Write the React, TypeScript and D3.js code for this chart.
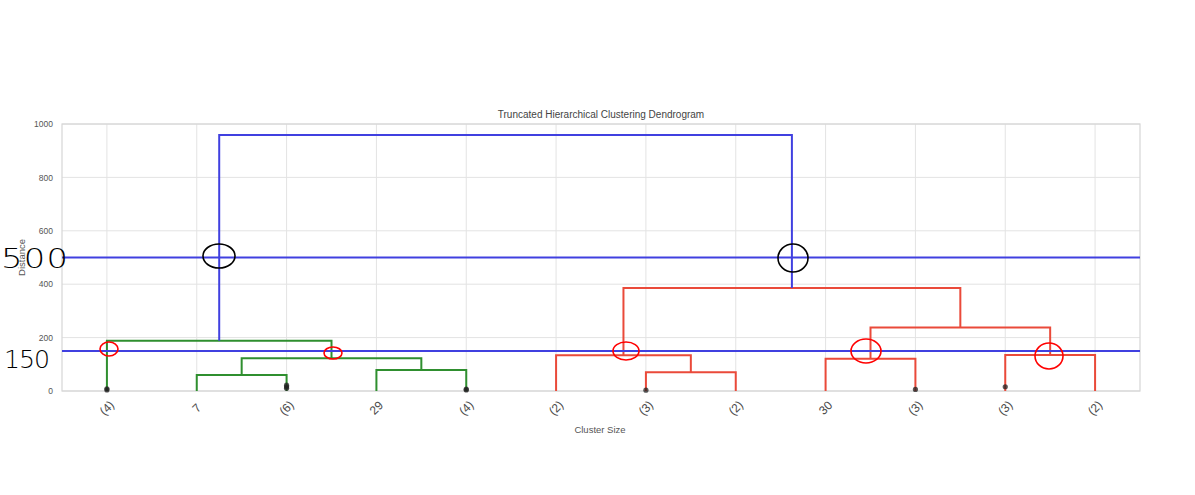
import React, { useEffect, useRef } from "react";
import * as d3 from "d3";

// leaf labels (truncated dendrogram, lastp = 12)
const leafLabels = ["(4)", "7", "(6)", "29", "(4)", "(2)", "(3)", "(2)", "30", "(3)", "(3)", "(2)"];

// merges: ids 12.. in order, [left child, right child]
const mergeLeft = [1, 3, 12, 0, 6, 5, 8, 10, 18, 17, 15];
const mergeRight = [2, 4, 13, 14, 7, 16, 9, 11, 19, 20, 21];
const mergeHeight = [60, 79, 123, 188, 70, 134, 121, 135, 238, 386, 959];
const mergeColor = ["g", "g", "g", "g", "r", "r", "r", "r", "r", "r", "b"];

// contracted merge heights drawn as dots on leaves
const contractedLeaf = [0, 0, 2, 2, 2, 4, 4, 6, 9, 10];
const contractedHeight = [4, 8, 10, 16, 22, 4, 7, 3, 6, 16];

const yTicks = [0, 200, 400, 600, 800, 1000];
const cutLines = [500, 150];

const colors: Record<string, string> = { g: "#2f8f2f", r: "#ea4a3a", b: "#4040e0" };

export default function App() {
  const ref = useRef<SVGSVGElement>(null);

  useEffect(() => {
    const svg = d3.select(ref.current);
    svg.selectAll("*").remove();

    const left = 62, right = 1140, top = 124, bottom = 391;
    const x = d3.scaleLinear().domain([0, leafLabels.length * 10]).range([left, right]);
    const y = d3.scaleLinear().domain([0, 1000]).range([bottom, top]);

    // node positions
    const nodeX: number[] = leafLabels.map((_, i) => 10 * i + 5);
    const nodeH: number[] = leafLabels.map(() => 0);
    mergeLeft.forEach((l, i) => {
      nodeX.push((nodeX[l] + nodeX[mergeRight[i]]) / 2);
      nodeH.push(mergeHeight[i]);
    });

    // grid
    const grid = svg.append("g");
    grid.selectAll("line.h")
      .data(yTicks)
      .join("line")
      .attr("x1", left).attr("x2", right)
      .attr("y1", d => y(d)).attr("y2", d => y(d))
      .attr("stroke", "#e3e3e3").attr("stroke-width", 1);
    grid.selectAll("line.v")
      .data(leafLabels.map((_, i) => 10 * i + 5))
      .join("line")
      .attr("x1", d => x(d)).attr("x2", d => x(d))
      .attr("y1", top).attr("y2", bottom)
      .attr("stroke", "#e3e3e3").attr("stroke-width", 1);
    svg.append("rect")
      .attr("x", left).attr("y", top)
      .attr("width", right - left).attr("height", bottom - top)
      .attr("fill", "none").attr("stroke", "#d6d6d6").attr("stroke-width", 1.2);

    const font = "Liberation Sans, Arial, sans-serif";

    // y axis labels
    const yAxis = d3.axisLeft(y).tickValues(yTicks).tickFormat(d3.format("d")).tickSize(0).tickPadding(9);
    const ya = svg.append("g").attr("transform", `translate(${left},0)`).call(yAxis);
    ya.select(".domain").remove();
    ya.selectAll("text").attr("fill", "#555").attr("font-size", 8.5).attr("font-family", font);

    // x tick labels (rotated 45)
    svg.append("g").selectAll("text")
      .data(leafLabels)
      .join("text")
      .attr("transform", (_, i) => `translate(${x(10 * i + 5)},${bottom + 17}) rotate(-45)`)
      .attr("text-anchor", "middle")
      .attr("dominant-baseline", "central")
      .attr("fill", "#4a4a4a")
      .attr("font-size", 12)
      .attr("font-family", font)
      .text(d => d);

    // links
    svg.append("g").selectAll("path")
      .data(mergeLeft.map((l, i) => i))
      .join("path")
      .attr("d", i => {
        const l = mergeLeft[i], r = mergeRight[i];
        return `M${x(nodeX[l])},${y(nodeH[l])}V${y(mergeHeight[i])}H${x(nodeX[r])}V${y(nodeH[r])}`;
      })
      .attr("fill", "none")
      .attr("stroke", i => colors[mergeColor[i]])
      .attr("stroke-width", 2);

    // contracted markers
    svg.append("g").selectAll("circle")
      .data(contractedLeaf.map((l, i) => i))
      .join("circle")
      .attr("cx", i => x(nodeX[contractedLeaf[i]]))
      .attr("cy", i => y(contractedHeight[i]))
      .attr("r", 2.6)
      .attr("fill", "#222")
      .attr("opacity", 0.75);

    // cut lines
    svg.append("g").selectAll("line")
      .data(cutLines)
      .join("line")
      .attr("x1", left).attr("x2", right)
      .attr("y1", d => y(d)).attr("y2", d => y(d))
      .attr("stroke", colors.b).attr("stroke-width", 2);

    // titles
    svg.append("text")
      .attr("x", (left + right) / 2).attr("y", 118)
      .attr("text-anchor", "middle").attr("font-size", 10).attr("fill", "#444")
      .attr("font-family", font)
      .text("Truncated Hierarchical Clustering Dendrogram");
    svg.append("text")
      .attr("x", 600).attr("y", 433)
      .attr("text-anchor", "middle").attr("font-size", 9.5).attr("fill", "#555")
      .attr("font-family", font)
      .text("Cluster Size");
    svg.append("text")
      .attr("transform", `translate(25,${(top + bottom) / 2}) rotate(-90)`)
      .attr("text-anchor", "middle").attr("font-size", 9.5).attr("fill", "#555")
      .attr("font-family", font)
      .text("Distance");

    // hand-drawn annotations
    const ann = svg.append("g").attr("font-family", "DejaVu Sans, sans-serif");
    ann.append("text")
      .attr("transform", "translate(1,268) scale(1.25,1)")
      .attr("font-size", 27).attr("font-weight", 200)
      .attr("letter-spacing", 1).attr("fill", "#000").text("500");
    ann.append("text")
      .attr("transform", "translate(4,368) scale(1.05,1)")
      .attr("font-size", 24).attr("font-weight", 200)
      .attr("letter-spacing", -1).attr("fill", "#000").text("150");

    const blackRings = [[219, 256, 16, 12], [793, 258, 15, 14]];
    const redRings = [[109, 349, 9, 7], [333, 353, 9, 6], [626, 351, 13, 9], [866, 351, 15, 12], [1049, 356, 14, 13]];
    ann.selectAll("ellipse.b").data(blackRings).join("ellipse")
      .attr("cx", d => d[0]).attr("cy", d => d[1]).attr("rx", d => d[2]).attr("ry", d => d[3])
      .attr("fill", "none").attr("stroke", "#000").attr("stroke-width", 1.6);
    svg.append("g").selectAll("ellipse")
      .data(redRings).join("ellipse")
      .attr("cx", d => d[0]).attr("cy", d => d[1]).attr("rx", d => d[2]).attr("ry", d => d[3])
      .attr("fill", "none").attr("stroke", "#ff0000").attr("stroke-width", 1.6);
  }, []);

  return (
    <svg ref={ref} width={1195} height={495}
      style={{ position: "absolute", left: 0, top: 0, background: "#fff" }} />
  );
}
